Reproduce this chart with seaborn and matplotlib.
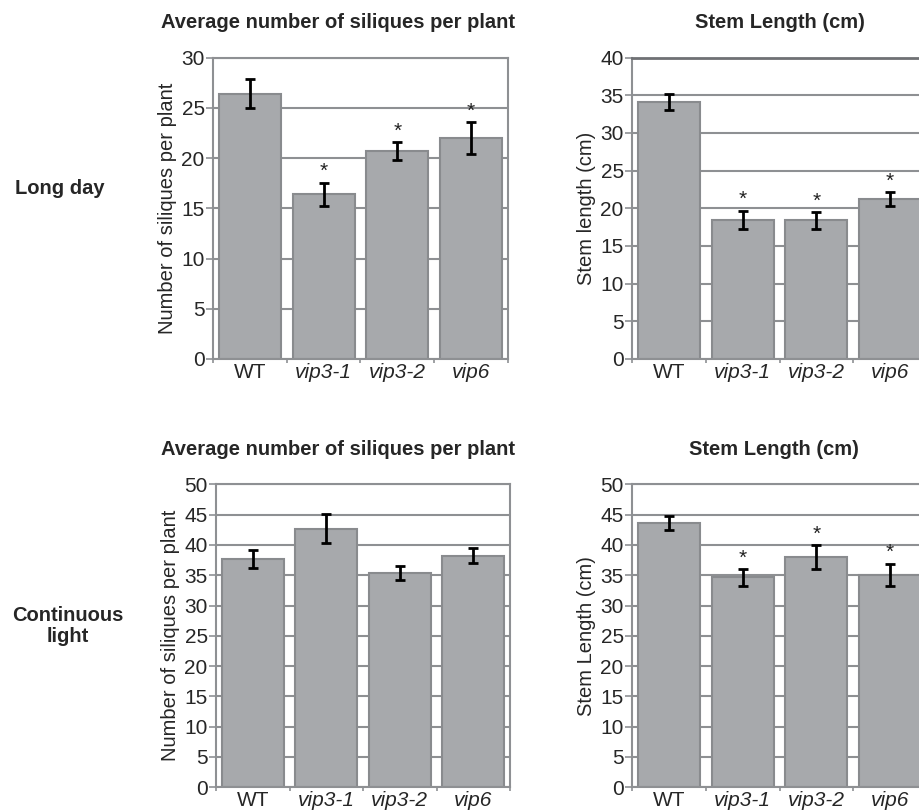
import matplotlib
matplotlib.use("Agg")
import matplotlib.pyplot as plt
import seaborn as sns
import numpy as np

sns.set_theme(style="white")
plt.rcParams["font.family"] = ["Liberation Sans", "DejaVu Sans"]

# Data
genotypes = ["WT", "vip3-1", "vip3-2", "vip6"]

ld_siliques = [26.4, 16.4, 20.7, 22.0]
ld_siliques_err = [1.45, 1.15, 0.9, 1.6]
ld_siliques_sig = [False, True, True, True]

ld_stem = [34.1, 18.5, 18.4, 21.2]
ld_stem_err = [1.0, 1.2, 1.1, 0.95]
ld_stem_sig = [False, True, True, True]

cl_siliques = [37.7, 42.7, 35.4, 38.2]
cl_siliques_err = [1.5, 2.4, 1.2, 1.25]
cl_siliques_sig = [False, False, False, False]

cl_stem = [43.6, 34.65, 37.95, 35.1]
cl_stem_err = [1.1, 1.4, 2.0, 1.8]
cl_stem_sig = [False, True, True, True]

bar_color = "#a7a9ac"
edge_color = "#898b8e"
grid_color = "#8e9093"

fig = plt.figure(figsize=(9.2, 8.1), dpi=100)

W, H = 920.0, 810.0


def make_ax(left, right, top, bottom):
    return fig.add_axes([left / W, 1 - bottom / H, (right - left) / W, (bottom - top) / H])


def panel(ax, vals, errs, sig, ymax, ylabel, title, title_x, dark_top=False):
    sns.barplot(x=genotypes, y=vals, color=bar_color, saturation=1, width=0.84,
                edgecolor=edge_color, linewidth=1.5, errorbar=None, ax=ax, zorder=2)
    ax.errorbar(range(len(vals)), vals, yerr=errs, fmt="none", ecolor="black",
                elinewidth=2, capsize=3.5, capthick=2, zorder=3)
    for i, (v, e, s) in enumerate(zip(vals, errs, sig)):
        if s:
            ax.annotate("*", (i, v + e), xytext=(0, 1), textcoords="offset points",
                        ha="center", va="bottom", fontsize=15, color="#222222")
    ax.set_xlim(-0.5, 3.5)
    ax.set_ylim(0, ymax)
    ax.set_yticks(np.arange(0, ymax + 1, 5))
    ax.yaxis.grid(True, color=grid_color, linewidth=1.5, zorder=0)
    ax.set_axisbelow(True)
    for sp in ax.spines.values():
        sp.set_color(grid_color)
        sp.set_linewidth(1.5)
    if dark_top:
        ax.spines["top"].set_color("#6f7174")
        ax.spines["top"].set_linewidth(2)
    ax.tick_params(axis="y", which="major", direction="out", length=5, width=1.2,
                   color=grid_color, labelsize=15, pad=1, left=True)
    ax.tick_params(axis="x", which="major", length=0, labelsize=15, pad=3)
    ax.set_xticks([-0.5, 0.5, 1.5, 2.5, 3.5], minor=True)
    ax.tick_params(axis="x", which="minor", direction="out", length=3, width=1.2,
                   color=grid_color, bottom=True)
    for lab in ax.get_xticklabels():
        lab.set_fontstyle("normal" if lab.get_text() == "WT" else "italic")
    ax.set_xlabel("")
    ax.set_ylabel(ylabel, fontsize=14.5, labelpad=3)
    ax.set_title(title, fontsize=14.5, fontweight="bold", x=title_x, pad=21)


ax1 = make_ax(213, 508, 57.5, 359)
panel(ax1, ld_siliques, ld_siliques_err, ld_siliques_sig, 30,
      "Number of siliques per plant", "Average number of siliques per plant", 0.424)

ax2 = make_ax(632, 927, 57.5, 359)
panel(ax2, ld_stem, ld_stem_err, ld_stem_sig, 40,
      "Stem length (cm)", "Stem Length (cm)", 0.5, dark_top=True)

ax3 = make_ax(216, 510, 484.3, 787.3)
panel(ax3, cl_siliques, cl_siliques_err, cl_siliques_sig, 50,
      "Number of siliques per plant", "Average number of siliques per plant", 0.415)

ax4 = make_ax(632, 927, 484.3, 787.3)
panel(ax4, cl_stem, cl_stem_err, cl_stem_sig, 50,
      "Stem Length (cm)", "Stem Length (cm)", 0.48)

fig.text(60 / W, 1 - 188 / H, "Long day", ha="center", va="center",
         fontsize=14.5, fontweight="bold")
fig.text(68 / W, 1 - 626 / H, "Continuous\nlight", ha="center", va="center",
         fontsize=14.5, fontweight="bold", linespacing=1.15)

fig.savefig("out.png", dpi=100)
